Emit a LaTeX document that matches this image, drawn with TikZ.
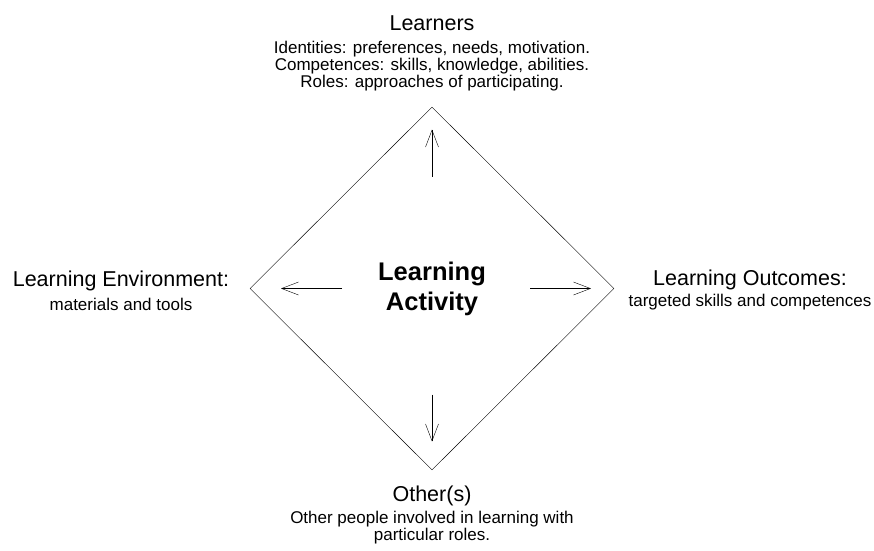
\documentclass[tikz,border=0pt]{standalone}
\usepackage{fontspec}
\setmainfont{Liberation Sans}
\usetikzlibrary{positioning,arrows.meta,shapes.geometric}
\tikzstyle{dbox}=[diamond, draw=black, thin, minimum width=364pt, minimum height=363pt,
                  inner sep=0pt, align=center, font=\bfseries\fontsize{25.5}{30}\selectfont]
\tikzstyle{hbox}=[rectangle, inner sep=0pt, text centered, font=\fontsize{21.5}{24}\selectfont]
\tikzstyle{tbox}=[rectangle, inner sep=0pt, align=center, font=\fontsize{17}{17}\selectfont]
\tikzstyle{parrow}=[-{Straight Barb[length=17pt,width=13pt]}, thin]

\begin{document}
\begin{tikzpicture}[x=1pt,y=1pt]
\useasboundingbox (0,0) rectangle (874,-550);

\node (LACT) [dbox] at (432,-288.5) {Learning\\Activity};

% learners on top
\node (LRNpkg) [tbox,above=16pt of LACT.north] {Identities: preferences, needs, motivation.\\
  Competences: skills, knowledge, abilities.\\Roles: approaches of participating.};
\node (LRN) [hbox,above=10pt of LRNpkg] {Learners};

% environment on the left
\node (LENV) [hbox] at (121,-281) {Learning Environment:};
\node (LENVpkg) [tbox,below=7pt of LENV] {materials and tools};

% outcomes on the right
\node (LOUT) [hbox] at (750,-280) {Learning Outcomes:};
\node (LOUTpkg) [tbox,below=4pt of LOUT] {targeted skills and competences};

% others below
\node (OTH) [hbox] at (432,-496) {Other(s)};
\node (OTHpkg) [tbox,below=5pt of OTH] {Other people involved in learning with\\particular roles.};

% arrows out of the activity
\path (LACT.center) ++(0,112) coordinate (UPs) ++(0,47) coordinate (UPe);
\path (LACT.center) ++(-90,0) coordinate (LFs) ++(-61,0) coordinate (LFe);
\path (LACT.center) ++(98,0) coordinate (RTs) ++(61,0) coordinate (RTe);
\path (LACT.center) ++(0,-106) coordinate (DNs) ++(0,-47) coordinate (DNe);
\draw[parrow] (UPs) -- (UPe);
\draw[parrow] (LFs) -- (LFe);
\draw[parrow] (RTs) -- (RTe);
\draw[parrow] (DNs) -- (DNe);

\end{tikzpicture}
\end{document}
